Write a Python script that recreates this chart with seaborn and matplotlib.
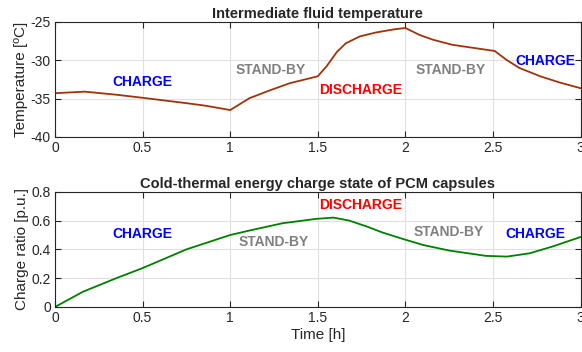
import matplotlib
matplotlib.use("Agg")
import matplotlib.pyplot as plt
import seaborn as sns
import pandas as pd

# Data
time_temp = [0.0, 0.17, 0.35, 0.5, 0.75, 0.85, 0.94, 1.0, 1.11, 1.23, 1.34, 1.5,
             1.55, 1.61, 1.66, 1.74, 1.83, 1.93, 2.0, 2.08, 2.16, 2.27, 2.39, 2.51,
             2.58, 2.65, 2.77, 2.88, 3.0]
temperature = [-34.3, -34.1, -34.5, -34.9, -35.6, -35.9, -36.25, -36.5, -34.95, -33.9, -33.0, -32.1,
               -30.8, -28.9, -27.8, -26.9, -26.4, -26.0, -25.8, -26.7, -27.35, -28.0, -28.4, -28.8,
               -30.0, -31.0, -32.1, -32.9, -33.65]

time_charge = [0.0, 0.16, 0.35, 0.5, 0.75, 1.0, 1.11, 1.30, 1.49, 1.59, 1.68, 1.78, 1.87,
               1.99, 2.10, 2.25, 2.46, 2.58, 2.71, 2.84, 3.0]
charge_ratio = [0.0, 0.106, 0.2, 0.27, 0.40, 0.50, 0.531, 0.582, 0.612, 0.621, 0.60, 0.559, 0.517,
                0.471, 0.431, 0.392, 0.355, 0.35, 0.373, 0.42, 0.486]

x_ticks = [0, 0.5, 1, 1.5, 2, 2.5, 3]
x_tick_labels = ["0", "0.5", "1", "1.5", "2", "2.5", "3"]
temp_ticks = [-40, -35, -30, -25]
charge_ticks = [0, 0.2, 0.4, 0.6, 0.8]
charge_tick_labels = ["0", "0.2", "0.4", "0.6", "0.8"]

top_labels = ["CHARGE", "STAND-BY", "DISCHARGE", "STAND-BY", "CHARGE"]
top_label_x = [0.5, 1.23, 1.745, 2.26, 2.80]
top_label_y = [-32.9, -31.3, -33.9, -31.3, -30.1]
bottom_label_x = [0.5, 1.25, 1.745, 2.25, 2.74]
bottom_label_y = [0.51, 0.45, 0.71, 0.52, 0.51]
label_colors = ["#0000FF", "#808080", "#FF0000", "#808080", "#0000FF"]

df_temp = pd.DataFrame({"Time": time_temp, "Temperature": temperature})
df_charge = pd.DataFrame({"Time": time_charge, "Charge": charge_ratio})

sns.set_style("white")
plt.rcParams["font.family"] = ["Liberation Sans", "DejaVu Sans"]

fig = plt.figure(figsize=(5.82, 3.52), dpi=100)
ax1 = fig.add_axes([0.0945, 0.611, 0.903, 0.327])
ax2 = fig.add_axes([0.0945, 0.128, 0.903, 0.327])

sns.lineplot(data=df_temp, x="Time", y="Temperature", ax=ax1, color="#A0330A", lw=1.3)
sns.lineplot(data=df_charge, x="Time", y="Charge", ax=ax2, color="#008000", lw=1.3)

for ax in (ax1, ax2):
    ax.set_xlim(0, 3)
    ax.set_xticks(x_ticks)
    ax.set_xticklabels(x_tick_labels)
    ax.grid(True, color="#E0E0E0", lw=0.8)
    ax.set_axisbelow(True)
    ax.tick_params(direction="in", length=4, width=0.8, labelsize=10, colors="#262626",
                   top=True, right=True, bottom=True, left=True, pad=3)
    for s in ax.spines.values():
        s.set_color("#262626")
        s.set_linewidth(0.8)

ax1.set_ylim(-40, -25)
ax1.set_yticks(temp_ticks)
ax1.set_yticklabels([str(t) for t in temp_ticks])
ax1.set_xlabel("")
ax1.set_ylabel("Temperature [ºC]", fontsize=11, color="#262626", labelpad=2)
ax1.set_title("Intermediate fluid temperature", fontsize=10.5, fontweight="bold", pad=3)

ax2.set_ylim(0, 0.8)
ax2.set_yticks(charge_ticks)
ax2.set_yticklabels(charge_tick_labels)
ax2.set_xlabel("Time [h]", fontsize=11, color="#262626", labelpad=2)
ax2.set_ylabel("Charge ratio [p.u.]", fontsize=11, color="#262626", labelpad=2)
ax2.set_title("Cold-thermal energy charge state of PCM capsules", fontsize=10.5,
              fontweight="bold", pad=3)

for lab, x, y, c in zip(top_labels, top_label_x, top_label_y, label_colors):
    ax1.text(x, y, lab, color=c, fontsize=10, fontweight="bold", ha="center", va="center")
for lab, x, y, c in zip(top_labels, bottom_label_x, bottom_label_y, label_colors):
    ax2.text(x, y, lab, color=c, fontsize=10, fontweight="bold", ha="center", va="center")

fig.savefig("out.png", dpi=100)
